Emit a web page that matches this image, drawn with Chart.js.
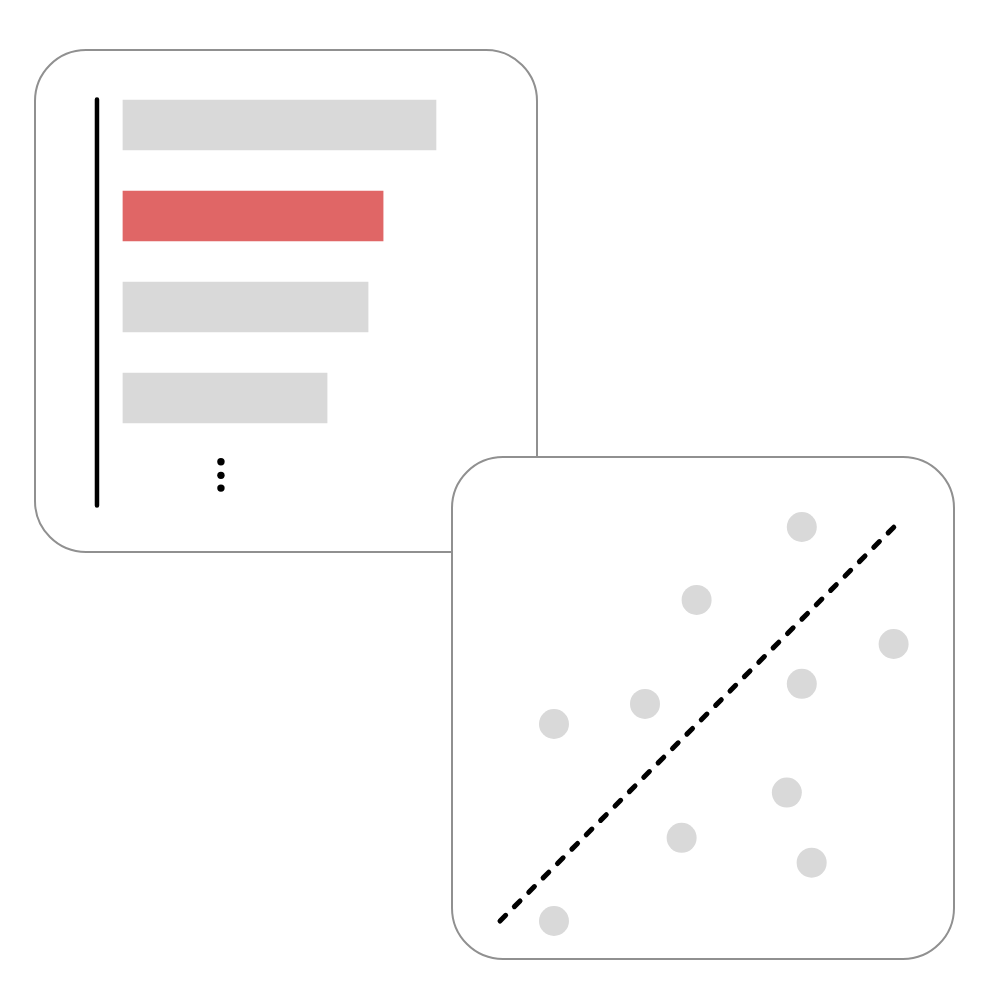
<!DOCTYPE html>
<html>
<head>
<meta charset="utf-8">
<script src="https://cdn.jsdelivr.net/npm/chart.js@4"></script>
<style>
  body { margin: 0; background: #fff; }
  .box {
    position: absolute;
    width: 504px;
    height: 504px;
    box-sizing: border-box;
    border: 2.8px solid #909090;
    border-radius: 52px;
    background: #fff;
  }
  canvas { position: absolute; }
</style>
</head>
<body>
<div class="box" style="left:34px; top:49px;"></div>
<canvas id="bars" width="504" height="504" style="left:34px; top:49px;"></canvas>
<div class="box" style="left:451px; top:456px;"></div>
<canvas id="scatter" width="504" height="504" style="left:451px; top:456px;"></canvas>

<script>
// bar chart (ranking)
const barPos = [1, 2, 3, 4];
const barValues = [100, 83.1, 78.3, 65.2];
const barColors = ["#d9d9d9", "#e06666", "#d9d9d9", "#d9d9d9"];
// "more rows" dots under the bars
const moreDotsX = [31.3, 31.3, 31.3];
const moreDotsY = [4.70, 4.85, 4.99];
// vertical axis line
const axisX = [-8.3, -8.3];
const axisY = [0.72, 5.18];

// scatter chart
const scatterX = [7.66, 4.99, 9.99, 7.66, 3.68, 1.37, 7.28, 4.61, 7.91, 1.37];
const scatterY = [10.0, 8.15, 7.03, 6.02, 5.51, 5.0, 3.26, 2.11, 1.48, 0.0];
const trendX = [0, 10];
const trendY = [0, 10];

const zip = (xs, ys) => xs.map((x, i) => ({ x: x, y: ys[i] }));

const common = {
  responsive: false,
  animation: false,
  events: [],
  plugins: { legend: { display: false }, tooltip: { enabled: false } },
};

// config för stapeldiagram
const barConfig = {
  type: "bar",
  data: {
    datasets: [
      {
        type: "bar",
        indexAxis: "y",
        data: zip(barValues, barPos),
        backgroundColor: barColors,
        barThickness: 50,
        borderWidth: 0,
        clip: false,
      },
      {
        type: "line",
        data: zip(axisX, axisY),
        borderColor: "#000",
        borderWidth: 4.5,
        borderCapStyle: "round",
        pointRadius: 0,
        clip: false,
      },
      {
        type: "scatter",
        data: zip(moreDotsX, moreDotsY),
        backgroundColor: "#000",
        borderWidth: 0,
        pointRadius: 3.7,
        clip: false,
      },
    ],
  },
  options: {
    ...common,
    layout: { padding: { left: 51.4, right: 39.4, top: 30.5, bottom: 18.5 } },
    scales: {
      x: { type: "linear", min: -12, max: 120, offset: false, grace: 0, display: false },
      y: { type: "linear", min: 0.5, max: 5.5, offset: false, grace: 0, reverse: true, display: false },
    },
  },
};

// config för punktdiagram
const scatterConfig = {
  type: "scatter",
  data: {
    datasets: [
      {
        data: zip(scatterX, scatterY),
        backgroundColor: "#d9d9d9",
        borderWidth: 0,
        pointRadius: 15,
        clip: false,
      },
      {
        type: "line",
        data: zip(trendX, trendY),
        borderColor: "#000",
        borderWidth: 5,
        borderDash: [8, 12.33],
        borderCapStyle: "round",
        pointRadius: 0,
        clip: false,
      },
    ],
  },
  options: {
    ...common,
    layout: { padding: { left: 49, right: 61, top: 71, bottom: 39 } },
    scales: {
      x: { type: "linear", min: 0, max: 10, offset: false, display: false },
      y: { type: "linear", min: 0, max: 10, offset: false, display: false },
    },
  },
};

new Chart(document.getElementById("bars"), barConfig);
new Chart(document.getElementById("scatter"), scatterConfig);
</script>
</body>
</html>
